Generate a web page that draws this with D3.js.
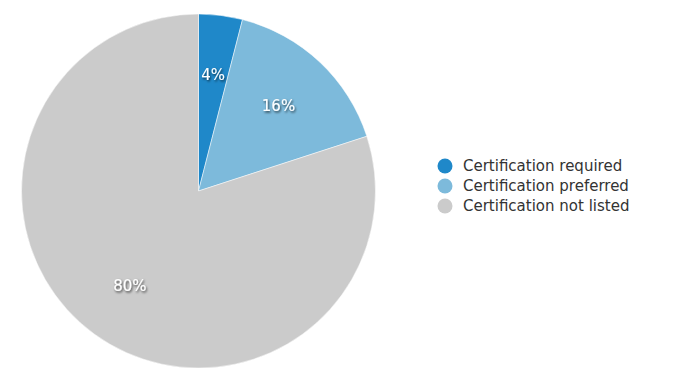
<!DOCTYPE html>
<html>
<head>
<meta charset="utf-8">
<script src="https://cdn.jsdelivr.net/npm/d3@7"></script>
<style>
  body { margin: 0; background: #fff; }
  text { font-family: "DejaVu Sans", Verdana, sans-serif; }
</style>
</head>
<body>
<svg width="675" height="388"></svg>
<script>
let categories = ["Certification required", "Certification preferred", "Certification not listed"]
let values = [4, 16, 80]
let colors = ["#1f88c9", "#7dbadb", "#cbcbcb"]

let svg = d3.select("svg")
let cx = 198.5, cy = 191, radius = 177

let defs = svg.append("defs")
let shadow = defs.append("filter").attr("id", "shadow")
  .attr("x", "-20%").attr("y", "-20%").attr("width", "150%").attr("height", "160%")
shadow.append("feDropShadow")
  .attr("dx", 1).attr("dy", 1.5).attr("stdDeviation", 1)
  .attr("flood-color", "#000").attr("flood-opacity", 0.7)

let color = d3.scaleOrdinal().domain(categories).range(colors)

let pie = d3.pie().sort(null).value(d => d.value)
let data = categories.map((c, i) => ({name: c, value: values[i]}))

let arc = d3.arc().innerRadius(0).outerRadius(radius)
let labelArc = d3.arc().innerRadius(radius * 0.66).outerRadius(radius * 0.66)

let g = svg.append("g")
  .attr("transform", "translate(" + cx + "," + cy + ")")

g.selectAll(".slice")
  .data(pie(data))
  .enter().append("path")
    .attr("class", "slice")
    .attr("d", arc)
    .attr("fill", d => color(d.data.name))
    .attr("stroke", "#fff")
    .attr("stroke-width", 0.5)

g.selectAll(".label")
  .data(pie(data))
  .enter().append("text")
    .attr("class", "label")
    .attr("transform", d => "translate(" + labelArc.centroid(d) + ")")
    .attr("text-anchor", "middle")
    .attr("dy", "0.35em")
    .attr("fill", "#fff")
    .attr("font-size", 15)
    .attr("filter", "url(#shadow)")
    .text(d => d.data.value + "%")

let legend = svg.append("g")
  .attr("transform", "translate(445,166)")

let items = legend.selectAll(".item")
  .data(categories)
  .enter().append("g")
    .attr("class", "item")
    .attr("transform", (d, i) => "translate(0," + i * 20 + ")")

items.append("circle")
  .attr("r", 7.5)
  .attr("fill", d => color(d))

items.append("text")
  .attr("x", 18)
  .attr("dy", "0.35em")
  .attr("font-size", 15)
  .attr("fill", "#333")
  .text(d => d)
</script>
</body>
</html>
